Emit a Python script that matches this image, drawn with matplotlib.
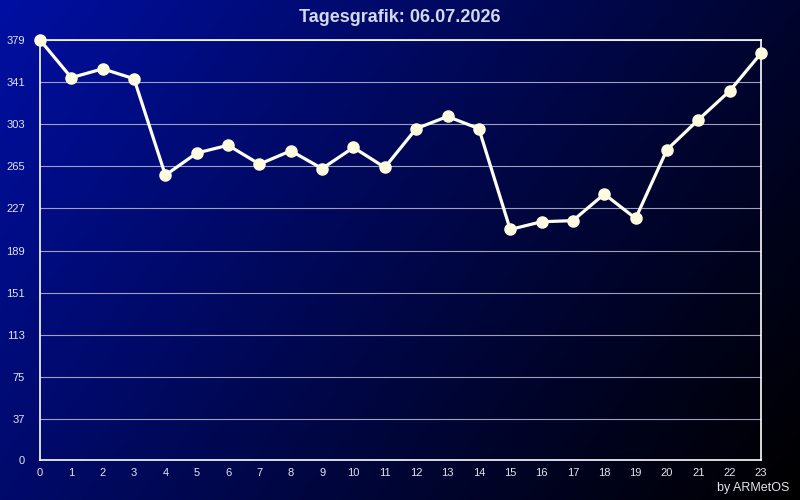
import numpy as np
import matplotlib
matplotlib.use("Agg")
import matplotlib.pyplot as plt

plt.rcParams['font.family'] = ['Liberation Sans', 'DejaVu Sans']

# stunden und werte der tagesgrafik
hours = list(range(24))
values = [379, 345, 353, 344, 257, 277, 284, 267, 279, 263, 282, 264,
          299, 310, 299, 208, 215, 216, 240, 218, 280, 307, 333, 367]
yticks = [0, 37, 75, 113, 151, 189, 227, 265, 303, 341, 379]
title = "Tagesgrafik: 06.07.2026"

fig = plt.figure(figsize=(8, 5), dpi=100)

# hintergrund: blau oben links -> schwarz unten rechts
bg = fig.add_axes([0, 0, 1, 1])
gx, gy = np.meshgrid(np.linspace(0, 1, 400), np.linspace(0, 1, 250))
f = np.clip(1 - (gx * 0.68 + gy * 0.32), 0, 1) ** 1.1
img = np.zeros((250, 400, 3))
img[..., 1] = 0.06 * f
img[..., 2] = 0.64 * f
bg.imshow(img, aspect='auto', extent=[0, 1, 0, 1], origin='upper')
bg.axis('off')

ax = fig.add_axes([40/800, 40/500, 721/800, 420/500])
ax.set_facecolor('none')
ax.plot(hours, values, color='#fffff0', lw=2.3, marker='o', ms=8,
        mfc='#fffbe0', mec='#fffbe0', zorder=3, clip_on=False)
ax.set_xlim(0, 23)
ax.set_ylim(0, 379)
ax.set_xticks(hours)
ax.set_yticks(yticks)
ax.grid(axis='y', color='#a0a0bc', lw=0.8)
ax.tick_params(length=0, labelsize=8, colors='#e4e4ec')
ax.tick_params(axis='y', pad=11)
ax.tick_params(axis='x', pad=6)
for s in ax.spines.values():
    s.set_color('white')
    s.set_linewidth(1.2)

fig.text(0.5, 1 - 17/500, title, ha='center', va='center', fontsize=13,
         fontweight='bold', color='#d4d8ec')
fig.text(789/800, 1 - 488/500, "by ARMetOS", ha='right', va='center',
         fontsize=9, color='#e4e4ec')

fig.savefig("out.png", dpi=100)
